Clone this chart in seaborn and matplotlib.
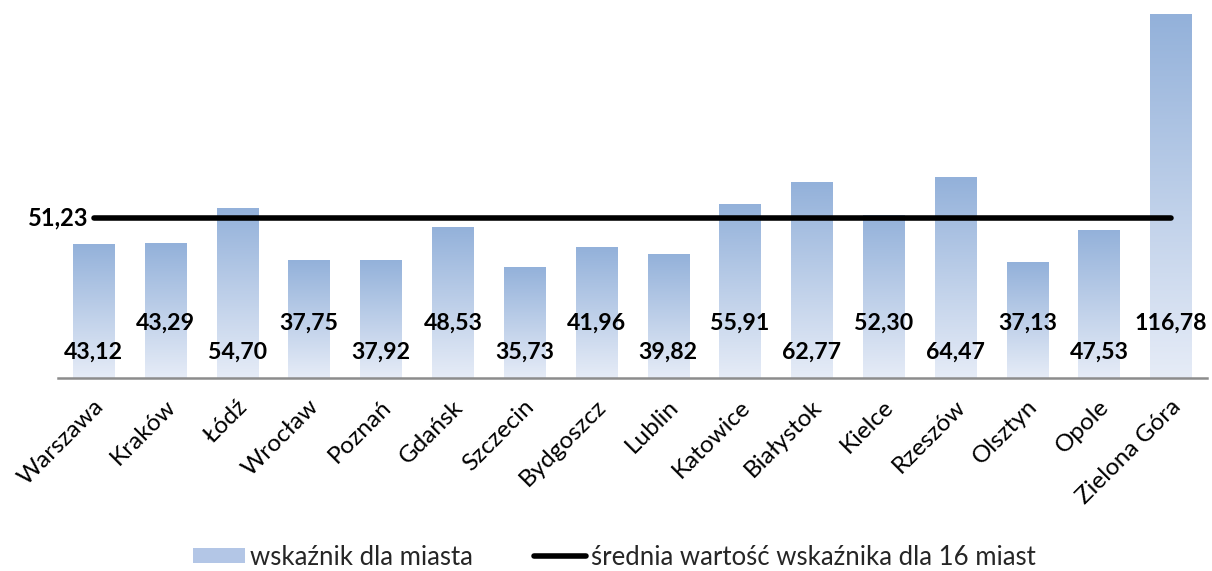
import numpy as np
import pandas as pd
import matplotlib
matplotlib.use("Agg")
import matplotlib.pyplot as plt
import matplotlib.transforms as mtransforms
import seaborn as sns
from matplotlib.patches import Patch
from matplotlib.lines import Line2D
from matplotlib.colors import LinearSegmentedColormap

# =========================
# DATA
# =========================
cities = ["Warszawa", "Kraków", "Łódź", "Wrocław", "Poznań", "Gdańsk", "Szczecin",
          "Bydgoszcz", "Lublin", "Katowice", "Białystok", "Kielce", "Rzeszów",
          "Olsztyn", "Opole", "Zielona Góra"]
values = [43.12, 43.29, 54.70, 37.75, 37.92, 48.53, 35.73, 41.96, 39.82,
          55.91, 62.77, 52.30, 64.47, 37.13, 47.53, 116.78]
mean_value = 51.23

df = pd.DataFrame({"miasto": cities, "wskaznik": values})

def fmt(v):
    return f"{v:.2f}".replace(".", ",")

# =========================
# STYLE
# =========================
sns.set_theme(style="white")
plt.rcParams["font.family"] = ["Lato", "DejaVu Sans"]

top_col = "#93B1DA"
bottom_col = "#E6ECF7"
grad = LinearSegmentedColormap.from_list("bar_grad", [bottom_col, top_col])

fig = plt.figure(figsize=(12.12, 5.71), dpi=100)
ax = fig.add_axes([0.0478, 0.338, 0.948, 0.655])

# =========================
# BARS
# =========================
sns.barplot(data=df, x="miasto", y="wskaznik", color=top_col, width=0.58,
            ax=ax, zorder=2)

ymax = 120
# gradient fill for each bar
g = np.linspace(0, 1, 256).reshape(-1, 1)
for p in ax.patches:
    x0, y0 = p.get_x(), p.get_y()
    w, h = p.get_width(), p.get_height()
    im = ax.imshow(g, cmap=grad, origin="lower", aspect="auto",
                   extent=[x0, x0 + w, y0, y0 + h], zorder=2.5)
    im.set_clip_path(p)
    p.set_facecolor("none")
    p.set_edgecolor("none")
ax.set_xlim(-0.5, len(cities) - 0.5)
ax.set_ylim(0, ymax)

# =========================
# MEAN LINE
# =========================
ax.hlines(mean_value, 0, len(cities) - 1, color="black", lw=4,
          capstyle="round", zorder=4)
ax.text(-0.07, mean_value, fmt(mean_value), ha="right", va="center",
        fontsize=17, fontweight="bold", color="black")

# =========================
# VALUE LABELS (alternating heights)
# =========================
for i, v in enumerate(values):
    y = 8.2 if i % 2 == 0 else 17.6
    ax.text(i, y, fmt(v), ha="center", va="center", fontsize=16.7,
            fontweight="bold", color="black", zorder=5)

# =========================
# AXES
# =========================
ax.set_xlabel("")
ax.set_ylabel("")
ax.set_yticks([])
for s in ["top", "right", "left"]:
    ax.spines[s].set_visible(False)
ax.spines["bottom"].set_color("#8C8C8C")
ax.spines["bottom"].set_linewidth(1.8)
ax.tick_params(axis="x", length=0, pad=13)
ax.set_xticks(range(len(cities)))
ax.set_xticklabels(cities, rotation=45, ha="right", rotation_mode="anchor",
                   fontsize=17.5, color="black")
shift = mtransforms.ScaledTranslation(-1 / 100, 0, fig.dpi_scale_trans)
for lab in ax.get_xticklabels():
    lab.set_transform(lab.get_transform() + shift)

# =========================
# LEGEND
# =========================
handles = [Patch(facecolor="#B3C6E6", edgecolor="none"),
           Line2D([0], [0], color="black", lw=4)]
labels = ["wskaźnik dla miasta", "średnia wartość wskaźnika dla 16 miast"]
fig.legend(handles, labels, loc="lower center", bbox_to_anchor=(0.507, -0.038),
           ncol=2, frameon=False, fontsize=18.5, handlelength=2.0,
           handleheight=0.55, handletextpad=0.2, columnspacing=2.4)

fig.savefig("out.png", dpi=100)
